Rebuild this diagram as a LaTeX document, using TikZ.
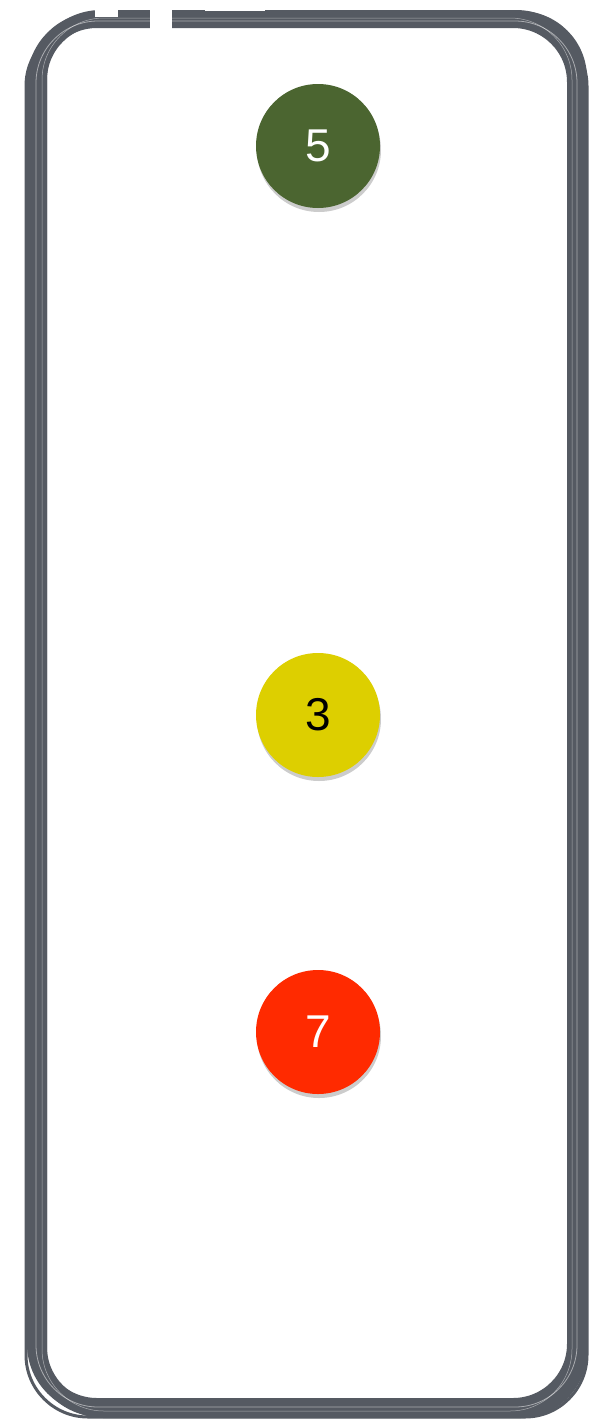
\documentclass[tikz,border=0pt]{standalone}
\usepackage{fontspec}
\setmainfont{Liberation Sans}
\usetikzlibrary{shadows}
\definecolor{framegray}{HTML}{555A62}
\definecolor{dotgreen}{HTML}{4B6530}
\definecolor{dotyellow}{HTML}{DDCF00}
\definecolor{dotred}{HTML}{FF2A00}
\tikzset{
  brush/.style={draw=framegray, rounded corners=62pt},
  streak/.style={draw=white, rounded corners=62pt, line width=0.8pt, opacity=0.5},
  dot/.style={circle, minimum size=124pt, inner sep=0pt,
    drop shadow={shadow xshift=1pt, shadow yshift=-4pt, opacity=0.2, fill=black},
    font=\fontsize{46}{46}\selectfont},
}
\begin{document}
\begin{tikzpicture}[x=1pt,y=-1pt]
\useasboundingbox (0,0) rectangle (596,1424);
\fill[white] (0,0) rectangle (596,1424);
% sketchy frame
\draw[brush, line width=16pt] (35,20) rectangle (575,1406);
\draw[brush, line width=16pt] (39,18) rectangle (578,1409);
\draw[brush, line width=10pt] (42,16) rectangle (582,1413);
\draw[brush, line width=3pt] (26,24) rectangle (587,1417);
\draw[streak] (36,21) rectangle (577,1407);
\draw[streak, line width=0.5pt] (42,18) rectangle (572,1411);
% white gaps near the top-left
\fill[white] (150,4) rectangle (172,30);
\fill[white] (205,4) rectangle (265,11);
\fill[white] (95,5) rectangle (118,17);
% dots
\node[dot, fill=dotgreen, text=white] (n5) at (318,146) {5};
\node[dot, fill=dotyellow, text=black] (n3) at (318,715) {3};
\node[dot, fill=dotred, text=white] (n7) at (318,1032) {7};
\end{tikzpicture}
\end{document}
